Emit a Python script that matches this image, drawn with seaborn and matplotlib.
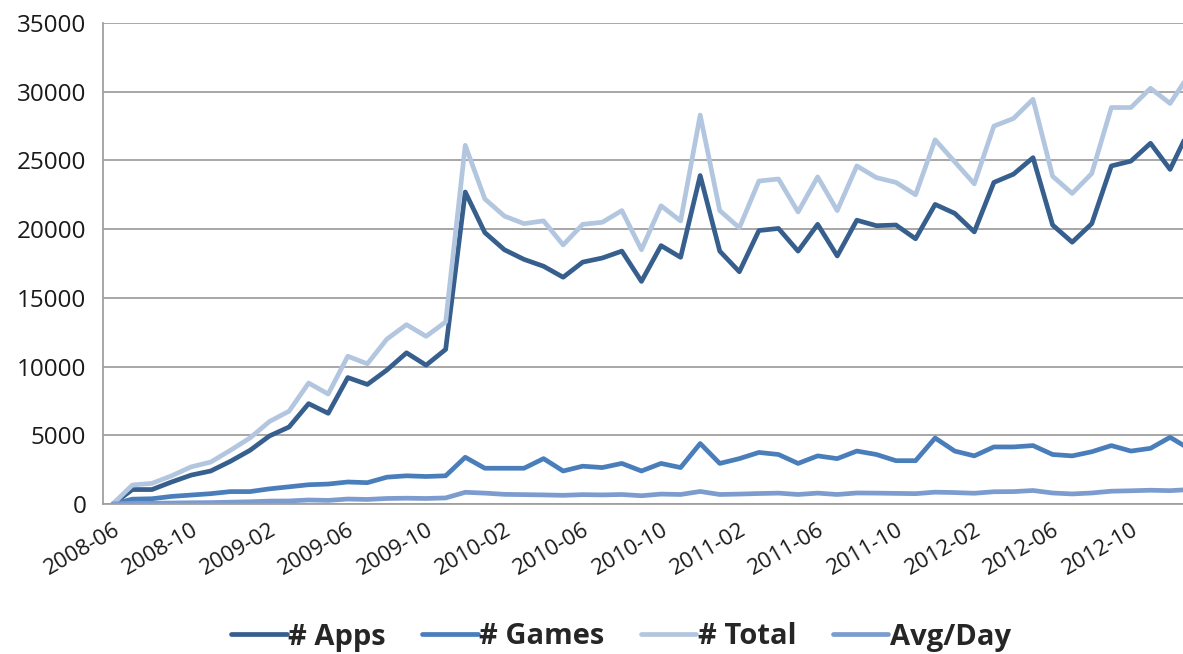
import numpy as np
import pandas as pd
import matplotlib.pyplot as plt
import seaborn as sns

# monthly categories, 2008-06 .. 2013-01 (last one is cut at the right edge)
months = pd.period_range('2008-06', periods=56, freq='M').strftime('%Y-%m').tolist()

apps = [0, 1050, 1050, 1600, 2100, 2400, 3100, 3900, 4950, 5600,
        7300, 6600, 9200, 8700, 9750, 11000, 10100, 11250, 22700, 19750,
        18500, 17800, 17300, 16500, 17600, 17900, 18400, 16200, 18800, 17950,
        23900, 18400, 16900, 19900, 20050, 18400, 20350, 18050, 20650, 20250,
        20300, 19300, 21800, 21150, 19800, 23400, 24000, 25200, 20300, 19050,
        20400, 24600, 24950, 26250, 24350, 27300]
games = [0, 350, 380, 550, 650, 750, 900, 900, 1100, 1250,
         1400, 1450, 1600, 1550, 1950, 2050, 2000, 2050, 3400, 2600,
         2600, 2600, 3300, 2400, 2750, 2650, 2950, 2400, 2950, 2650,
         4400, 2950, 3300, 3750, 3600, 2950, 3500, 3300, 3850, 3600,
         3150, 3150, 4800, 3850, 3500, 4150, 4150, 4250, 3600, 3500,
         3800, 4250, 3850, 4050, 4850, 4000]
total = [0, 1380, 1500, 2050, 2700, 3050, 3900, 4800, 6000, 6750,
         8800, 8000, 10750, 10200, 12000, 13050, 12200, 13250, 26100, 22200,
         20950, 20400, 20600, 18850, 20350, 20500, 21350, 18500, 21700, 20600,
         28300, 21350, 20100, 23500, 23650, 21250, 23800, 21350, 24600, 23750,
         23400, 22500, 26500, 24900, 23300, 27500, 28050, 29450, 23850, 22600,
         24050, 28850, 28850, 30250, 29150, 31300]
avg_day = [0, 45, 50, 70, 90, 100, 130, 160, 210, 220,
           290, 260, 360, 330, 400, 420, 400, 440, 850, 790,
           700, 680, 660, 630, 680, 660, 690, 600, 720, 690,
           910, 690, 720, 760, 790, 690, 790, 690, 800, 790,
           770, 750, 860, 830, 780, 890, 900, 980, 800, 730,
           800, 930, 960, 1000, 970, 1050]

series_names = ['# Apps', '# Games', '# Total', 'Avg/Day']
colors = {'# Apps': '#375f8e', '# Games': '#4a7ebb',
          '# Total': '#b3c6e0', 'Avg/Day': '#7c9ccf'}

df = pd.DataFrame({'month': months, '# Apps': apps, '# Games': games,
                   '# Total': total, 'Avg/Day': avg_day})
long = df.melt(id_vars='month', var_name='series', value_name='count')
long['pos'] = long.groupby('series').cumcount()

sns.set_style('white')
plt.rcParams['font.family'] = ['Open Sans', 'DejaVu Sans']

fig = plt.figure(figsize=(11.83, 6.54), dpi=100)
ax = fig.add_axes([0.0871, 0.2294, 0.9129, 0.7354])

sns.lineplot(data=long, x='pos', y='count', hue='series', hue_order=series_names,
             palette=colors, linewidth=3.4, sort=False, ax=ax)

grid_c = '#a0a0a0'
ax.set_yticks(range(0, 35001, 5000))
ax.yaxis.grid(True, color=grid_c, linewidth=1.3)
ax.set_axisbelow(True)
ax.set_xticks(range(0, 56, 4))
ax.set_xticklabels(months[::4], rotation=30, ha='right', rotation_mode='anchor')
ax.set_xticks(np.arange(-0.5, 56, 1), minor=True)
# limits after the ticks, otherwise set_xticks widens the view
ax.set_ylim(0, 35000)
ax.set_xlim(-0.5, 54.66)
ax.tick_params(axis='x', which='major', length=0, pad=11, labelsize=16, labelcolor='#1a1a1a')
ax.tick_params(axis='x', which='minor', length=6, width=1.2, color=grid_c, direction='out')
ax.tick_params(axis='y', length=7, width=1.2, color=grid_c, direction='out',
               labelsize=17.5, labelcolor='#1a1a1a', pad=5)
ax.set_xlabel('')
ax.set_ylabel('')
for s in ['top', 'right']:
    ax.spines[s].set_visible(False)
for s in ['left', 'bottom']:
    ax.spines[s].set_color(grid_c)
    ax.spines[s].set_linewidth(1.3)

handles, labels = ax.get_legend_handles_labels()
ax.legend(handles, labels, loc='center', bbox_to_anchor=(621 / 1183, 1 - 637 / 654),
          bbox_transform=fig.transFigure, ncol=4, frameon=False,
          prop={'weight': 'bold', 'size': 21}, handlelength=1.9,
          handletextpad=0.05, columnspacing=1.25)

fig.savefig('out.png', dpi=100)
